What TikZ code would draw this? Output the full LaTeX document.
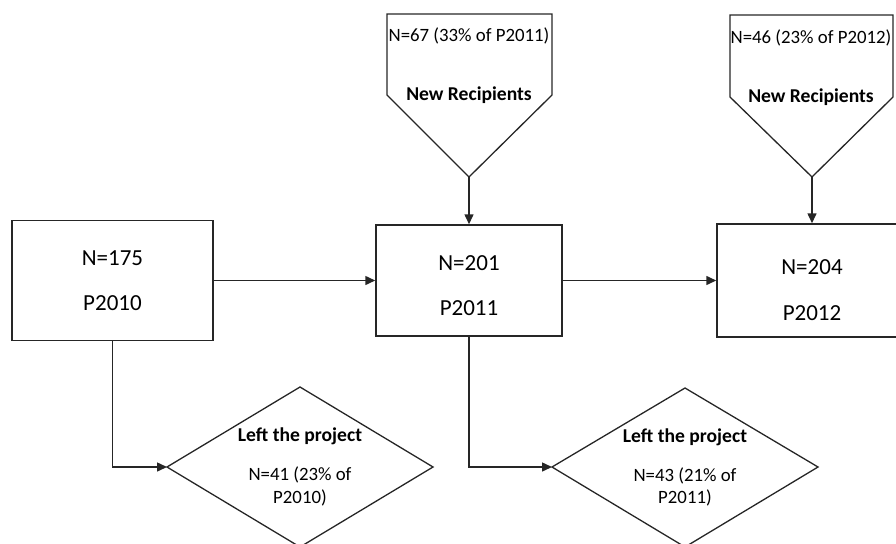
\documentclass[tikz,border=0pt]{standalone}
\usepackage{fontspec}
\setmainfont{Carlito}
\usetikzlibrary{arrows.meta}
\definecolor{ln}{HTML}{262626}
\tikzset{
  boxnode/.style={draw=ln, line width=1.5pt, rectangle, inner sep=0pt},
  bigtxt/.style={font=\fontsize{23}{27}\selectfont, text=black, inner sep=0pt},
  smalltxt/.style={font=\fontsize{18.8}{22}\selectfont, text=black, inner sep=0pt},
  boldtxt/.style={font=\fontsize{19.6}{23}\selectfont\bfseries, text=black, inner sep=0pt},
  shapeline/.style={draw=ln, line width=1.3pt, line join=miter},
  conn/.style={draw=ln, line width=1.5pt, -{Triangle[length=10pt,width=9pt]}},
}
\begin{document}
\begin{tikzpicture}[x=1pt,y=-1pt]
\useasboundingbox (0,0) rectangle (896,543);
% boxes
\node[boxnode, minimum width=201pt, minimum height=120pt] (b1) at (112.5,280.5) {};
\node[boxnode, minimum width=186pt, minimum height=111pt] (b2) at (469,280.5) {};
\node[boxnode, minimum width=190pt, minimum height=113pt] (b3) at (812,280.5) {};
\node[bigtxt] (b1a) at (112.5,258) {N=175};
\node[bigtxt] (b1b) at (112.5,303) {P2010};
\node[bigtxt] (b2a) at (469,263) {N=201};
\node[bigtxt] (b2b) at (469,308) {P2011};
\node[bigtxt] (b3a) at (812,267) {N=204};
\node[bigtxt] (b3b) at (812,313) {P2012};
% pentagons
\coordinate (p1tip) at (469,177);
\coordinate (p2tip) at (812,177);
\draw[shapeline] (387,14) -- (552,14) -- (552,95) -- (p1tip) -- (387,95) -- cycle;
\draw[shapeline] (730,15) -- (893,15) -- (893,97) -- (p2tip) -- (730,97) -- cycle;
\node[smalltxt] (p1a) at (469,36) {N=67 (33\% of P2011)};
\node[boldtxt] (p1b) at (469,95) {New Recipients};
\node[smalltxt] (p2a) at (811,38) {N=46 (23\% of P2012)};
\node[boldtxt] (p2b) at (811,97) {New Recipients};
% diamonds
\coordinate (d1w) at (167,467);
\coordinate (d2w) at (552,467);
\draw[shapeline] (d1w) -- (300,387) -- (433,467) -- (300,547) -- cycle;
\draw[shapeline] (d2w) -- (685,388) -- (818,467) -- (685,547) -- cycle;
\node[boldtxt] (d1a) at (300,436) {Left the project};
\node[smalltxt] (d1b) at (300,475) {N=41 (23\% of};
\node[smalltxt] (d1c) at (300,498) {P2010)};
\node[boldtxt] (d2a) at (685,437) {Left the project};
\node[smalltxt] (d2b) at (685,476) {N=43 (21\% of};
\node[smalltxt] (d2c) at (685,498) {P2011)};
% connectors
\draw[conn] (b1.east) -- (b2.west);
\draw[conn] (b2.east) -- (b3.west);
\draw[conn] (p1tip) -- (b2.north);
\draw[conn] (p2tip) -- (b3.north);
\draw[conn] (b1.south) |- (d1w);
\draw[conn] (b2.south) |- (d2w);
\end{tikzpicture}
\end{document}
